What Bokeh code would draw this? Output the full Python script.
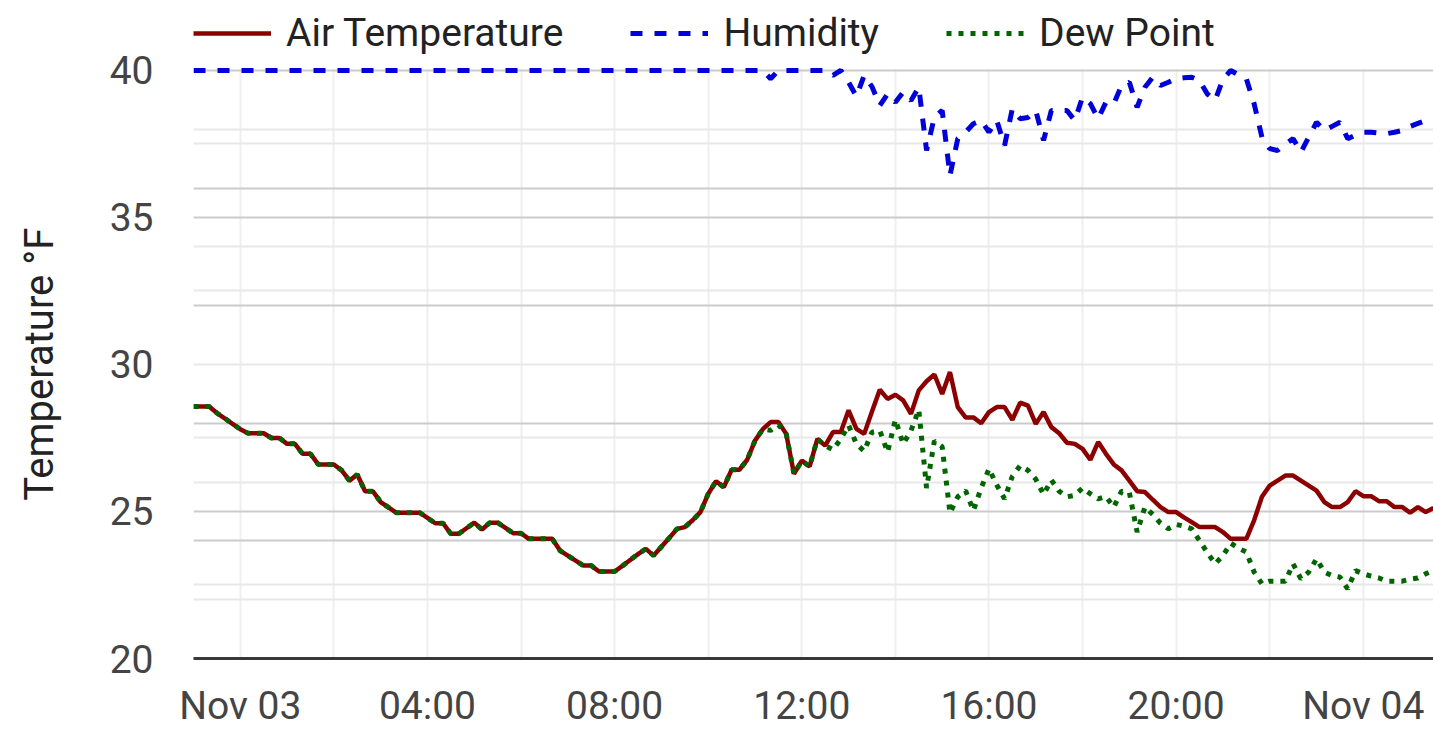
import pandas as pd
from bokeh.plotting import figure
from bokeh.models import Range1d, FixedTicker, Grid, Legend, LegendItem, ColumnDataSource, BoxAnnotation
from bokeh.embed import file_html
from bokeh.resources import INLINE

# ---- data (10-minute readings, Nov 02 23:00 -> Nov 04 01:30) ----
times = pd.date_range("2023-11-02 23:00", periods=160, freq="10min")

air_temp = [
    28.57, 28.57, 28.57, 28.35, 28.17, 27.98, 27.8, 27.66, 27.66, 27.66,
    27.5, 27.5, 27.3, 27.3, 26.96, 26.96, 26.6, 26.6, 26.6, 26.4,
    26.05, 26.26, 25.69, 25.69, 25.32, 25.14, 24.96, 24.96, 24.96, 24.96,
    24.78, 24.6, 24.6, 24.24, 24.24, 24.43, 24.62, 24.39, 24.62, 24.62,
    24.44, 24.26, 24.26, 24.07, 24.07, 24.07, 24.07, 23.67, 23.5, 23.33,
    23.16, 23.16, 22.96, 22.96, 22.96, 23.15, 23.35, 23.55, 23.73, 23.5,
    23.8, 24.1, 24.41, 24.47, 24.7, 24.98, 25.6, 26.03, 25.83, 26.42,
    26.42, 26.76, 27.41, 27.8, 28.04, 28.04, 27.64, 26.28, 26.73, 26.53,
    27.47, 27.24, 27.7, 27.7, 28.44, 27.81, 27.64, 28.4, 29.14, 28.83,
    28.97, 28.78, 28.32, 29.12, 29.43, 29.66, 29.0, 29.74, 28.55, 28.2,
    28.2, 28.0, 28.38, 28.55, 28.55, 28.12, 28.7, 28.6, 27.98, 28.38,
    27.87, 27.66, 27.34, 27.3, 27.13, 26.76, 27.36, 26.96, 26.6, 26.4,
    26.05, 25.69, 25.66, 25.4, 25.15, 24.98, 24.98, 24.8, 24.64, 24.47,
    24.47, 24.47, 24.3, 24.07, 24.07, 24.07, 24.7, 25.5, 25.88, 26.05,
    26.22, 26.22, 26.05, 25.88, 25.71, 25.32, 25.15, 25.15, 25.32, 25.69,
    25.52, 25.52, 25.35, 25.35, 25.15, 25.15, 24.96, 25.15, 24.98, 25.12,
]

humidity = [40.0] * 74 + [
    39.72, 40.0, 40.0, 40.0, 40.0, 40.0, 40.0, 40.0, 39.83, 40.0,
    39.6, 39.12, 39.83, 39.45, 38.81, 39.2, 38.92, 39.26, 38.98, 39.43,
    37.28, 38.41, 38.64, 36.43, 37.68, 37.9, 38.19, 38.3, 37.9, 38.3,
    37.45, 38.7, 38.36, 38.4, 38.64, 37.62, 38.64, 38.64, 38.64, 38.3,
    39.09, 38.87, 38.36, 38.92, 38.87, 39.49, 39.6, 38.75, 39.43, 39.77,
    39.49, 39.6, 39.72, 39.75, 39.77, 39.66, 39.2, 38.98, 39.7, 40.0,
    39.85, 39.72, 38.87, 37.73, 37.34, 37.28, 37.5, 37.68, 37.22, 37.73,
    38.24, 37.96, 38.1, 38.24, 37.68, 37.8, 37.9, 37.9, 37.87, 37.85,
    37.9, 37.96, 38.1, 38.2, 38.3, 38.36,
]

dew_point = air_temp[:74] + [
    27.76, 27.95, 27.64, 26.28, 26.73, 26.53, 27.47, 27.24, 27.1, 27.47,
    27.93, 27.3, 27.05, 27.7, 27.75, 27.02, 28.12, 27.3, 27.75, 28.46,
    25.8, 27.4, 27.2, 24.95, 25.5, 25.71, 25.03, 25.8, 26.45, 25.9,
    25.43, 26.2, 26.56, 26.4, 26.1, 25.58, 26.07, 25.69, 25.5, 25.55,
    25.8, 25.6, 25.43, 25.51, 25.15, 25.69, 25.65, 24.3, 25.15, 24.9,
    24.6, 24.41, 24.56, 24.5, 24.41, 24.01, 23.6, 23.22, 23.5, 23.92,
    23.75, 23.62, 22.94, 22.54, 22.63, 22.63, 22.63, 23.22, 22.71, 22.94,
    23.39, 22.94, 22.82, 22.77, 22.37, 22.99, 22.88, 22.8, 22.74, 22.63,
    22.63, 22.63, 22.7, 22.74, 22.88, 23.0,
]

series_names = ["Air Temperature", "Humidity", "Dew Point"]
y_title = "Temperature °F"
y_ticks = [20, 25, 30, 35, 40]
grid_major = [20, 24, 25, 28, 32, 35, 36, 40]
grid_minor = [22, 22.5, 26, 27.5, 30, 32.5, 34, 37.5, 38]
x_tick_times = pd.date_range("2023-11-03 00:00", periods=7, freq="4h")
x_tick_labels = ["Nov 03", "04:00", "08:00", "12:00", "16:00", "20:00", "Nov 04"]
x_grid_times = pd.date_range("2023-11-03 00:00", periods=13, freq="2h")

STYLES = [
    dict(line_color="#8b0000", line_width=4.5),
    dict(line_color="#0000d8", line_width=5, line_dash="12 12"),
    dict(line_color="#006400", line_width=5, line_dash="5 7"),
]
FONT = "Roboto"
Y_LOW, Y_TOP, Y_VIEW_TOP = 20, 40, 42.38   # view extends above 40 to hold the legend


def ms(ts):
    return float(pd.Timestamp(ts).value // 10**6)


src = ColumnDataSource(dict(t=times, air=air_temp, hum=humidity, dew=dew_point))

p = figure(
    width=1433, height=748,
    x_axis_type="datetime",
    x_range=Range1d(ms(times[0]), ms(times[-1])),
    y_range=Range1d(Y_LOW, Y_VIEW_TOP),
    output_backend="svg", toolbar_location=None,
    min_border_left=193, min_border_right=0,
    min_border_top=0, min_border_bottom=90,
)
p.outline_line_color = None
p.background_fill_color = "white"
p.border_fill_color = "white"

# grids
p.xgrid.grid_line_color = None
p.ygrid.grid_line_color = None
p.add_layout(Grid(dimension=0, ticker=FixedTicker(ticks=[ms(t) for t in x_grid_times]),
                  grid_line_color="#efefef", grid_line_width=2))
p.add_layout(Grid(dimension=1, ticker=FixedTicker(ticks=grid_minor),
                  grid_line_color="#e8e8e8", grid_line_width=2))
# blank band above the 40 line (legend area): hides the vertical grid there
p.add_layout(BoxAnnotation(bottom=Y_TOP + 0.05, fill_color="white", fill_alpha=1,
                           line_color=None, level="underlay"))
p.add_layout(Grid(dimension=1, ticker=FixedTicker(ticks=grid_major),
                  grid_line_color="#cbcbcb", grid_line_width=2))

# axes
xa = p.xaxis[0]
xa.ticker = FixedTicker(ticks=[ms(t) for t in x_tick_times])
xa.major_label_overrides = {ms(t): lab for t, lab in zip(x_tick_times, x_tick_labels)}
xa.axis_line_color = "#383838"
xa.axis_line_width = 3
xa.major_tick_line_color = None
xa.minor_tick_line_color = None
xa.major_tick_out = 0
xa.major_label_standoff = 24
xa.major_label_text_font = FONT
xa.major_label_text_font_size = "39px"
xa.major_label_text_color = "#444444"

ya = p.yaxis[0]
ya.ticker = FixedTicker(ticks=y_ticks)
ya.bounds = (Y_LOW, Y_TOP)
ya.axis_line_color = None
ya.major_tick_line_color = None
ya.minor_tick_line_color = None
ya.major_tick_out = 0
ya.major_label_standoff = 40
ya.major_label_text_font = FONT
ya.major_label_text_font_size = "39px"
ya.major_label_text_color = "#444444"
# the label is centred on the whole frame (which reaches up to the legend);
# trailing no-break spaces move the visible words down to the 20-40 span centre
ya.axis_label = y_title + "\u00a0" * 7
ya.axis_label_text_font = FONT
ya.axis_label_text_font_size = "40px"
ya.axis_label_text_font_style = "normal"
ya.axis_label_text_color = "#222222"
ya.axis_label_standoff = 44

r_air = p.line("t", "air", source=src, **STYLES[0])
r_hum = p.line("t", "hum", source=src, **STYLES[1])
r_dew = p.line("t", "dew", source=src, **STYLES[2])

legend = Legend(
    items=[LegendItem(label=n, renderers=[r]) for n, r in zip(series_names, [r_air, r_hum, r_dew])],
    orientation="horizontal", location=(0, 600),
    glyph_width=78, glyph_height=50, label_height=50,
    label_standoff=15, spacing=67, padding=0, margin=0,
    border_line_color=None, background_fill_alpha=0,
    label_text_font=FONT, label_text_font_size="39px", label_text_color="#222222",
)
p.add_layout(legend, "center")

open("out.html", "w").write(file_html(p, INLINE))
